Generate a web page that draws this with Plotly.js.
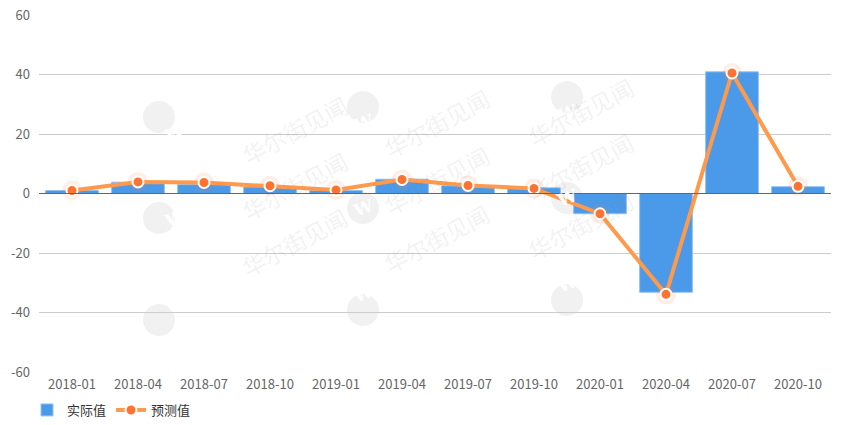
<!DOCTYPE html>
<html>
<head>
<meta charset="utf-8">
<script src="https://cdn.plot.ly/plotly-3.0.1.min.js"></script>
<style>
html,body{margin:0;padding:0;background:#fff;}
#chart{width:841px;height:425px;}
</style>
</head>
<body>
<div id="chart"></div>
<script>
const categories = ['2018-01','2018-04','2018-07','2018-10','2019-01','2019-04','2019-07','2019-10','2020-01','2020-04','2020-07','2020-10'];
const actualValues = [1.0, 3.8, 3.0, 2.2, 1.0, 4.8, 2.6, 1.9, -6.8, -33.2, 40.9, 2.3];
const forecastValues = [1.0, 3.9, 3.7, 2.6, 1.2, 4.7, 2.7, 1.7, -6.8, -33.9, 40.5, 2.4];
const yTicks = [-60, -40, -20, 0, 20, 40, 60];
const seriesNames = ['实际值', '预测值'];
const watermarkText = '华尔街见闻';

const font = '"Noto Sans CJK SC", "Noto Sans", sans-serif';
const W = 841, H = 425;
const M = {l: 39, r: 10, t: 15, b: 53};
const PW = W - M.l - M.r, PH = H - M.t - M.b;
function px(x){ return (x - M.l) / PW; }
function py(y){ return (H - M.b - y) / PH; }

const traces = [
  {
    type: 'bar',
    name: seriesNames[0],
    x: categories,
    y: actualValues,
    marker: {color: '#4a9ae9', line: {color: '#93c3f2', width: 1}},
    hoverinfo: 'x+y'
  },
  {
    type: 'scatter',
    mode: 'markers',
    x: categories,
    y: forecastValues,
    showlegend: false,
    hoverinfo: 'skip',
    marker: {size: 20, color: 'rgba(255,125,60,0.13)', line: {width: 0}}
  },
  {
    type: 'scatter',
    mode: 'lines+markers',
    name: seriesNames[1],
    x: categories,
    y: forecastValues,
    line: {color: '#ff9a4c', width: 4},
    marker: {size: 11, color: '#ff7332', line: {color: '#ffffff', width: 2}}
  }
];

// watermark grid (pixel centres: text and logo circle)
const wmText = [[233,85],[233,186],[233,287],[437,78],[437,180],[437,283],[642,67],[642,167],[642,270]];
const wmLogo = [[159,117],[159,218],[159,320],[363,107],[363,208],[363,310],[567,97],[567,198],[567,300]];
const annotations = [];
const shapes = [];
wmLogo.forEach(function(p){
  shapes.push({
    type: 'circle', xref: 'paper', yref: 'paper',
    x0: px(p[0]-16), x1: px(p[0]+16), y0: py(p[1]+16), y1: py(p[1]-16),
    fillcolor: '#f1f1f1', line: {width: 0}, layer: 'below'
  });
  annotations.push({
    xref: 'paper', yref: 'paper', x: px(p[0]), y: py(p[1]),
    text: '<b>W</b>', showarrow: false, textangle: -20,
    font: {family: 'DejaVu Serif, serif', size: 17, color: '#ffffff'}
  });
});
wmText.forEach(function(p){
  annotations.push({
    xref: 'paper', yref: 'paper', x: px(p[0]), y: py(p[1]),
    text: watermarkText, showarrow: false, textangle: -28,
    font: {family: font, size: 23, color: 'rgba(120,120,120,0.10)'}
  });
});
// zero axis line above bars
shapes.push({
  type: 'line', xref: 'paper', yref: 'y', x0: 0, x1: 1, y0: 0, y1: 0,
  line: {color: '#666666', width: 1}, layer: 'above'
});

const layout = {
  width: W,
  height: H,
  margin: M,
  paper_bgcolor: '#ffffff',
  plot_bgcolor: '#ffffff',
  font: {family: font, size: 12, color: '#666'},
  bargap: 0.2,
  showlegend: true,
  legend: {
    orientation: 'h', xref: 'container', yref: 'container',
    x: 27 / W, xanchor: 'left', y: 15 / H, yanchor: 'middle',
    font: {family: font, size: 13, color: '#333'},
    traceorder: 'normal', itemwidth: 30
  },
  xaxis: {
    type: 'category',
    range: [-0.5, categories.length - 0.5],
    automargin: false,
    showgrid: false,
    zeroline: false,
    showline: false,
    ticks: '',
    ticklabelstandoff: 3,
    tickfont: {family: font, size: 13, color: '#666'},
    fixedrange: true
  },
  yaxis: {
    automargin: false,
    range: [-60, 60],
    tickvals: yTicks,
    ticktext: yTicks.map(String),
    showgrid: true,
    gridcolor: '#cccccc',
    gridwidth: 1,
    zeroline: false,
    showline: false,
    ticks: '',
    ticklabelstandoff: 8,
    tickfont: {family: font, size: 13, color: '#666'},
    fixedrange: true
  },
  shapes: shapes,
  annotations: annotations
};

Plotly.newPlot('chart', traces, layout, {displayModeBar: false, staticPlot: true});
</script>
</body>
</html>
